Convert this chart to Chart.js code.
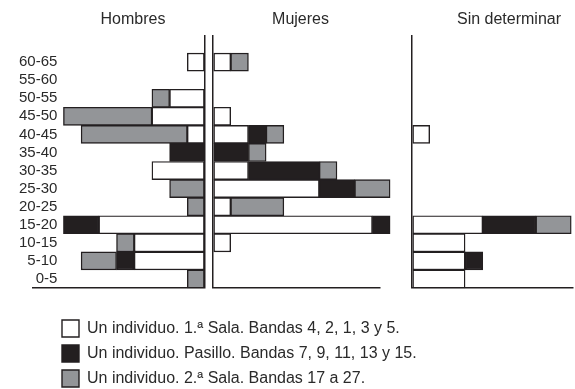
<!DOCTYPE html>
<html>
<head>
<meta charset="utf-8">
<script src="https://cdn.jsdelivr.net/npm/chart.js@4/dist/chart.umd.min.js"></script>
<style>
html,body{margin:0;padding:0;background:#ffffff;}
#c{display:block;}
</style>
</head>
<body>
<canvas id="c" width="575" height="389"></canvas>
<script>
// ---- data ----
const ageGroups = ['0-5','5-10','10-15','15-20','20-25','25-30','30-35','35-40','40-45','45-50','50-55','55-60','60-65'];
const panelTitles = ['Hombres', 'Mujeres', 'Sin determinar'];
const seriesNames = [
  'Un individuo. 1.\u00aa Sala. Bandas 4, 2, 1, 3 y 5.',
  'Un individuo. Pasillo. Bandas 7, 9, 11, 13 y 15.',
  'Un individuo. 2.\u00aa Sala. Bandas 17 a 27.'
];
const hombresSala1   = [0,4,4,6,0,0,3,0,1,3,2,0,1];
const hombresPasillo = [0,1,0,2,0,0,0,2,0,0,0,0,0];
const hombresSala2   = [1,2,1,0,1,2,0,0,6,5,1,0,0];
const mujeresSala1   = [0,0,1,9,1,6,2,0,2,1,0,0,1];
const mujeresPasillo = [0,0,0,1,0,2,4,2,1,0,0,0,0];
const mujeresSala2   = [0,0,0,0,3,2,1,1,1,0,0,0,1];
const sinDetSala1    = [3,3,3,4,0,0,0,0,1,0,0,0,0];
const sinDetPasillo  = [0,1,0,3,0,0,0,0,0,0,0,0,0];
const sinDetSala2    = [0,0,0,2,0,0,0,0,0,0,0,0,0];

// ---- styling ----
const INK = '#231f20';
const TEXT = '#2a2a2a';
const FILLS = ['#ffffff', '#231f20', '#939598'];
const FONT = "'Liberation Sans', Arial, Helvetica, sans-serif";

const panels = [
  {axis: 'xH', series: [hombresSala1, hombresPasillo, hombresSala2]},
  {axis: 'xM', series: [mujeresSala1, mujeresPasillo, mujeresSala2]},
  {axis: 'xS', series: [sinDetSala1, sinDetPasillo, sinDetSala2]}
];

const datasets = [];
panels.forEach(p => p.series.forEach((arr, k) => {
  datasets.push({
    label: seriesNames[k],
    data: arr.map(v => v === 0 ? null : v),
    xAxisID: p.axis,
    yAxisID: 'y',
    stack: 'all',
    backgroundColor: FILLS[k],
    borderColor: INK,
    borderWidth: 1.4,
    borderSkipped: false,
    barPercentage: 1,
    categoryPercentage: 1,
    clip: false
  });
}));

const zeroLine = ctx => (ctx.tick && ctx.tick.value === 0) ? INK : 'rgba(0,0,0,0)';

function panelAxis(order, weight, max, reverse) {
  return {
    type: 'linear', position: 'bottom', stack: 'panels', stackWeight: weight, weight: order,
    min: 0, max: max, reverse: reverse, stacked: true,
    grid: {color: zeroLine, lineWidth: 1.5, drawTicks: false},
    border: {display: true, color: INK, width: 1.5},
    ticks: {display: false},
    afterFit: s => { s.height = 24; }
  };
}
function blankAxis(position, stack, weight, order, h) {
  const a = {
    type: 'linear', position: position, stack: stack, stackWeight: weight, weight: order,
    min: 0, max: 1,
    grid: {display: false, drawTicks: false},
    border: {display: false},
    ticks: {display: false}
  };
  if (h !== undefined) a.afterFit = s => { s.height = h; };
  return a;
}
function titleAxis(text, weight, order) {
  const a = blankAxis('top', 'titles', weight, order, 35);
  a.title = {display: true, text: text, color: TEXT, font: {family: FONT, size: 16}, padding: {top: 10, bottom: 0}};
  return a;
}

const categoryLabels = [...ageGroups, ''];

new Chart(document.getElementById('c'), {
  type: 'bar',
  data: {labels: categoryLabels, datasets: datasets},
  options: {
    indexAxis: 'y',
    responsive: false,
    animation: false,
    devicePixelRatio: 1,
    events: [],
    layout: {padding: {left: 0, right: 2, top: 0, bottom: 0}},
    scales: {
      y: {
        type: 'category', position: 'left', reverse: true, stacked: true, offset: true,
        labels: categoryLabels,
        grid: {display: false, drawTicks: false},
        border: {display: false},
        ticks: {color: TEXT, font: {family: FONT, size: 15}, mirror: true, crossAlign: 'far', padding: -14, autoSkip: false},
        afterFit: s => { s.width = 33; }
      },
      tH: titleAxis(panelTitles[0], 200, 4),
      tM: titleAxis(panelTitles[1], 135, 3),
      tGap: blankAxis('top', 'titles', 77, 2, 35),
      tS: titleAxis(panelTitles[2], 128, 1),
      xH: panelAxis(0, 172, 9.72, true),
      gap1: blankAxis('bottom', 'panels', 8, 1, 24),
      xM: panelAxis(2, 167, 9.43, false),
      gap2: blankAxis('bottom', 'panels', 32, 3, 24),
      xS: panelAxis(4, 161, 9.1, false),
      legPad: blankAxis('bottom', 'legrow', 21, 5, 77)
    },
    plugins: {
      title: {display: false},
      tooltip: {enabled: false},
      legend: {
        display: true,
        position: 'bottom',
        align: 'start',
        fullSize: false,
        stack: 'legrow',
        stackWeight: 519,
        maxHeight: 77,
        labels: {
          boxWidth: 17, boxHeight: 17, padding: 8,
          color: TEXT, font: {family: FONT, size: 16},
          filter: item => item.datasetIndex < 3
        }
      }
    }
  }
});
</script>
</body>
</html>
